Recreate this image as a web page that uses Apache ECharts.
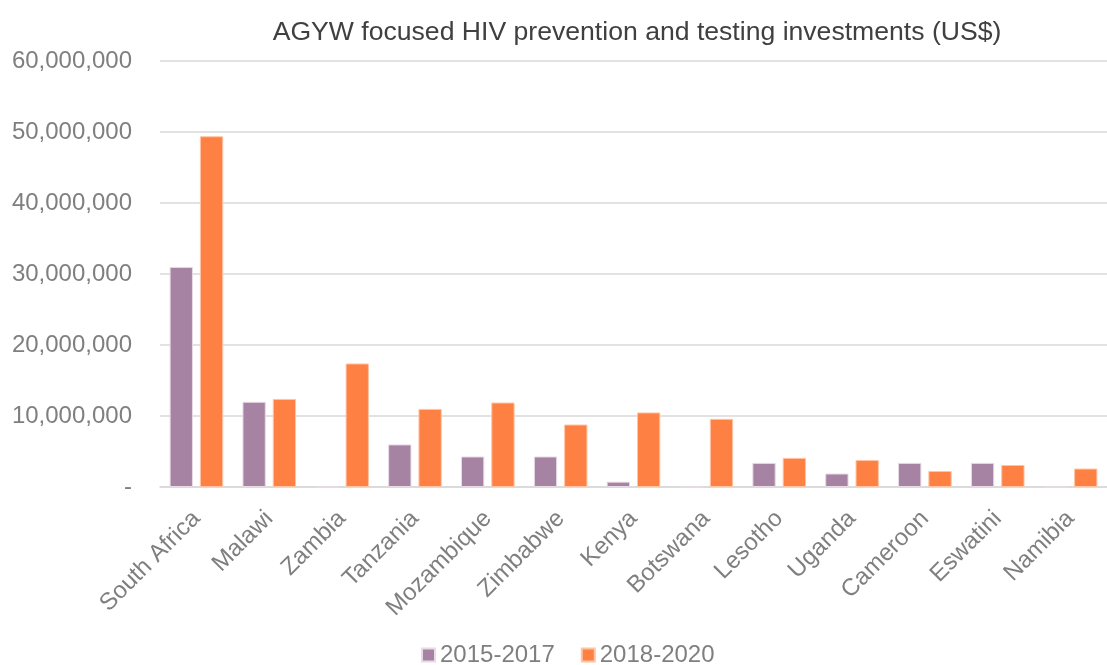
<!DOCTYPE html>
<html>
<head>
<meta charset="utf-8">
<script src="https://cdn.jsdelivr.net/npm/echarts@6/dist/echarts.min.js"></script>
<style>
    html, body { margin: 0; padding: 0; background: #fff; }
    #main { width: 1107px; height: 665px; }
</style>
</head>
<body>
<div id="main"></div>
<script>
// 数据
let countries = ['South Africa', 'Malawi', 'Zambia', 'Tanzania', 'Mozambique', 'Zimbabwe', 'Kenya', 'Botswana', 'Lesotho', 'Uganda', 'Cameroon', 'Eswatini', 'Namibia'];
let period1 = [31000000, 12000000, 0, 6000000, 4300000, 4300000, 750000, 0, 3400000, 1900000, 3400000, 3400000, 0];
let period2 = [49400000, 12400000, 17400000, 11000000, 11900000, 8800000, 10500000, 9600000, 4100000, 3800000, 2250000, 3100000, 2600000];
let yTicks = [0, 10000000, 20000000, 30000000, 40000000, 50000000, 60000000];

(function () {
    let myChart = echarts.init(document.getElementById('main'));
    let font = 'Liberation Sans, Arial, sans-serif';
    let option = {
        animation: false,
        title: {
            text: 'AGYW focused HIV prevention and testing investments (US$)',
            left: 632,
            top: 14,
            textAlign: 'center',
            textStyle: { color: '#404040', fontSize: 26.6, fontWeight: 'normal', fontFamily: font }
        },
        legend: {
            top: 643,
            left: 421,
            padding: 0,
            icon: 'rect',
            itemWidth: 13,
            itemHeight: 13,
            itemGap: 26,
            textStyle: { color: '#7f7f7f', fontSize: 24, fontFamily: font }
        },
        grid: { left: 160, right: 0, top: 61, bottom: 178 },
        xAxis: {
            type: 'category',
            data: countries,
            axisTick: { show: false },
            axisLine: { lineStyle: { color: '#d9d9d9', width: 1.5 } },
            axisLabel: { rotate: 45, color: '#7f7f7f', fontSize: 24, fontFamily: font, interval: 0, margin: 28 }
        },
        yAxis: {
            type: 'value',
            min: yTicks[0],
            max: yTicks[yTicks.length - 1],
            interval: 10000000,
            axisLine: { show: false },
            axisTick: { show: false },
            splitLine: { lineStyle: { color: '#d9d9d9', width: 1.5 } },
            axisLabel: {
                color: '#7f7f7f', fontSize: 24, fontFamily: font, margin: 28,
                formatter: function (v) { return v === 0 ? '-' : v.toLocaleString('en-US'); }
            }
        },
        series: [
            {
                name: '2015-2017',
                type: 'bar',
                data: period1,
                barWidth: '32%',
                barGap: '30%',
                itemStyle: { color: '#a682a3', borderColor: '#e8dbe6', borderWidth: 1 }
            },
            {
                name: '2018-2020',
                type: 'bar',
                data: period2,
                barWidth: '32%',
                itemStyle: { color: '#ff8043', borderColor: '#ffc4a6', borderWidth: 1 }
            }
        ]
    };
    myChart.setOption(option);
    window.addEventListener('resize', function () {
        myChart.resize()
    })
})();
</script>
</body>
</html>
